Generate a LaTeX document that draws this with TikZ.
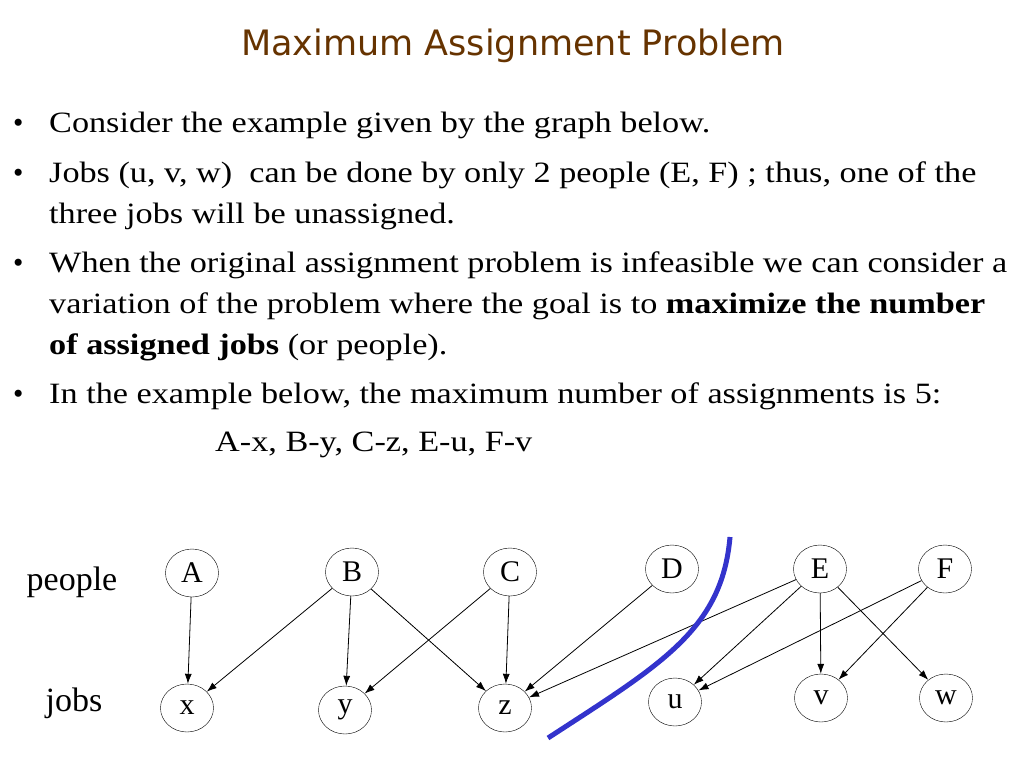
\documentclass[tikz,border=0pt]{standalone}
\usepackage{fontspec}
\usepackage{graphicx}
\setmainfont{Liberation Serif}
\newfontfamily\titlefont{DejaVu Sans}
\usetikzlibrary{shapes.geometric,arrows.meta}
\definecolor{titlebrown}{RGB}{102,51,0}
\definecolor{cutblue}{RGB}{51,51,204}
\newcommand\wide[1]{\scalebox{1.16}[1]{#1}}
\begin{document}
\begin{tikzpicture}[x=1pt,y=-1pt,
  vtx/.style={draw,ellipse,minimum width=53pt,minimum height=48pt,inner sep=0pt,font=\fontsize{30}{30}\selectfont},
  edge/.style={-{Latex[length=10pt,width=7pt]},line width=0.8pt},
  line/.style={anchor=base west,inner sep=0pt,font=\fontsize{29.5}{29.5}\selectfont},
  side/.style={inner sep=0pt,font=\fontsize{34}{34}\selectfont}]
\useasboundingbox (0,0) rectangle (1024,768);
% title
\node[font=\titlefont\fontsize{35}{35}\selectfont,text=titlebrown] (title) at (513,46) {Maximum Assignment Problem};
% bullets
\foreach \y in {132,182,272,403}
  \node[line] at (13,\y) {\textbullet};
\node[line] (l1) at (49,132) {\wide{Consider the example given by the graph below.}};
\node[line] (l2) at (49,182) {\wide{Jobs (u, v, w)\ \ can be done by only 2 people (E, F) ; thus, one of the}};
\node[line] (l3) at (49,223) {\wide{three jobs will be unassigned.}};
\node[line] (l4) at (49,272) {\wide{When the original assignment problem is infeasible we can consider a}};
\node[line] (l5) at (49,313) {\wide{variation of the problem where the goal is to \textbf{maximize the number}}};
\node[line] (l6) at (49,354) {\wide{\textbf{of assigned jobs} (or people).}};
\node[line] (l7) at (49,403) {\wide{In the example below, the maximum number of assignments is 5:}};
\node[line] (l8) at (215,451) {\wide{A-x, B-y, C-z, E-u, F-v}};
% graph
\node[side] (people) at (72,582) {people};
\node[side] (jobs) at (74,703) {jobs};
\node[vtx] (A) at (192,573) {A};
\node[vtx] (B) at (352,572) {B};
\node[vtx] (C) at (510,572) {C};
\node[vtx] (D) at (672,569) {D};
\node[vtx] (E) at (820,569) {E};
\node[vtx] (F) at (945,569) {F};
\node[vtx] (x) at (187,708) {x};
\node[vtx] (y) at (345,710) {y};
\node[vtx] (z) at (505,708) {z};
\node[vtx] (u) at (675,702) {u};
\node[vtx] (v) at (821,698) {v};
\node[vtx] (w) at (946,698) {w};
\foreach \s/\t in {A/x,B/x,B/y,B/z,C/y,C/z,D/z,E/z,E/u,E/v,E/w,F/u,F/v}
  \draw[edge] (\s) -- (\t);
% the cut
\draw[cutblue,line width=5pt] (730,537) .. controls (722,630) and (660,665) .. (548,738);
\end{tikzpicture}
\end{document}
